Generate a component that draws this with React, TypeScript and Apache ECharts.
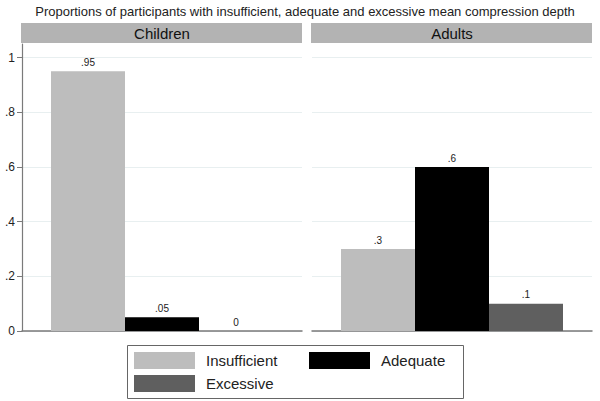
import React, { useEffect, useRef } from "react";
import * as echarts from "echarts";

const title = "Proportions of participants with insufficient, adequate and excessive mean compression depth";
const panels = ["Children", "Adults"];
const seriesNames = ["Insufficient", "Adequate", "Excessive"];
const seriesColors = ["#bdbdbd", "#000000", "#5f5f5f"];
const childrenValues = [0.95, 0.05, 0];
const adultsValues = [0.3, 0.6, 0.1];
const yTicks = [0, 0.2, 0.4, 0.6, 0.8, 1];

const FONT = "'Liberation Sans', Arial, Helvetica, sans-serif";

function fmt(v: number): string {
  const n = Number(Number(v).toFixed(2));
  if (n === 0) return "0";
  if (n === 1) return "1";
  return String(n).replace(/^0\./, ".");
}

export default function App() {
  const ref = useRef<HTMLDivElement>(null);
  useEffect(() => {
    document.body.style.margin = "0";
    if (!ref.current) return;
    const chart = echarts.init(ref.current, undefined, { renderer: "svg" });
    const panelValues = [childrenValues, adultsValues];
    const gridLefts = [22, 312];
    const series: any[] = [];
    panelValues.forEach((vals, gi) => {
      seriesNames.forEach((name, si) => {
        series.push({
          type: "bar",
          name,
          xAxisIndex: gi,
          yAxisIndex: gi,
          data: [
            {
              value: vals[si],
              label: { color: "#222", textBorderWidth: 0 },
            },
          ],
          barWidth: 74,
          barGap: "0%",
          itemStyle: { color: seriesColors[si] },
          label: {
            show: true,
            position: "top",
            distance: 4,
            formatter: (p: any) => fmt(p.value),
            fontSize: 10,
            color: "#222",
            fontFamily: FONT,
          },
        });
      });
    });
    const option: any = {
      animation: false,
      grid: gridLefts.map((l) => ({ left: l, top: 44, width: 280, height: 287 })),
      xAxis: [0, 1].map((i) => ({
        type: "category",
        gridIndex: i,
        data: [panels[i]],
        axisLine: { show: true, lineStyle: { color: "#7a7a7a", width: 1.5 } },
        axisTick: { show: false },
        axisLabel: { show: false },
        splitLine: { show: false },
      })),
      yAxis: [0, 1].map((i) => ({
        type: "value",
        gridIndex: i,
        min: 0,
        max: 1.05,
        interval: 0.2,
        axisLine: { show: i === 0, lineStyle: { color: "#7a7a7a", width: 1.2 } },
        axisTick: {
          show: i === 0,
          length: 5,
          customValues: yTicks,
          lineStyle: { color: "#7a7a7a" },
        },
        axisLabel: {
          show: i === 0,
          customValues: yTicks,
          formatter: (v: number) => fmt(v),
          fontSize: 12,
          color: "#222",
          margin: 7,
          fontFamily: FONT,
        },
        splitLine: { show: true, lineStyle: { color: "#e8eff0", width: 1 } },
      })),
      legend: [
        { name: "Insufficient", left: 134, top: 352 },
        { name: "Adequate", left: 309, top: 352 },
        { name: "Excessive", left: 134, top: 375 },
      ].map((l) => ({
        data: [l.name],
        left: l.left,
        top: l.top,
        padding: 0,
        itemWidth: 61,
        itemHeight: 17,
        icon: "rect",
        selectedMode: false,
        textStyle: { fontSize: 15, color: "#222", fontFamily: FONT, padding: [0, 0, 0, 6] },
      })),
      graphic: [
        {
          type: "text",
          x: 305,
          y: 11,
          style: {
            text: title,
            fill: "#222",
            font: `13px ${FONT}`,
            textAlign: "center",
            textVerticalAlign: "middle",
          },
        },
        ...panels.map((p, i) => ({
          type: "group",
          children: [
            {
              type: "rect",
              shape: { x: gridLefts[i] - 1, y: 23, width: 281, height: 20 },
              style: { fill: "#b3b3b3" },
            },
            {
              type: "text",
              x: gridLefts[i] + 140,
              y: 33,
              style: {
                text: p,
                fill: "#111",
                font: `15px ${FONT}`,
                textAlign: "center",
                textVerticalAlign: "middle",
              },
            },
          ],
        })),
        {
          type: "rect",
          shape: { x: 127.5, y: 345.5, width: 336, height: 53 },
          style: { fill: "none", stroke: "#666", lineWidth: 1 },
          z: 10,
        },
      ],
      series,
    };
    chart.setOption(option);
    return () => chart.dispose();
  }, []);
  return <div ref={ref} style={{ width: 600, height: 401, background: "#fff" }} />;
}
